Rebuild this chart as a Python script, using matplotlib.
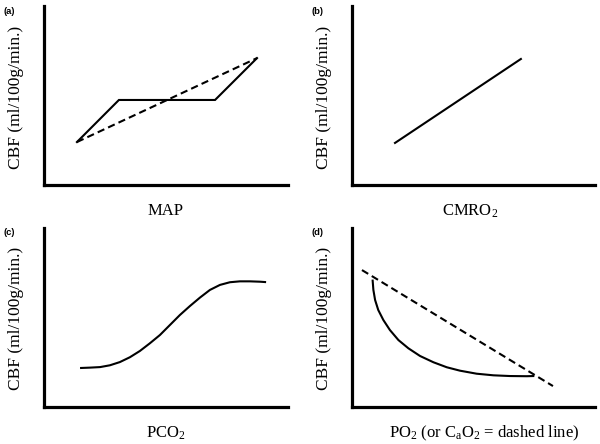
import matplotlib
matplotlib.use("Agg")
import matplotlib.pyplot as plt

plt.rcParams['mathtext.fontset'] = 'custom'
plt.rcParams['mathtext.rm'] = 'Liberation Serif'
plt.rcParams['mathtext.it'] = 'Liberation Serif:italic'

# Panel (a): MAP
map_solid_x = [1.35, 3.07, 7.01, 8.73]
map_solid_y = [2.40, 4.75, 4.75, 7.09]
map_dash_x = [1.35, 8.73]
map_dash_y = [2.40, 7.09]

# Panel (b): CMRO2
cmro_x = [1.77, 6.95]
cmro_y = [2.35, 7.04]

# Panel (c): PCO2
pco_x = [1.52, 1.89, 2.30, 2.70, 3.11, 3.52, 3.93, 4.34, 4.75, 5.16,
         5.57, 5.98, 6.39, 6.80, 7.21, 7.62, 8.03, 8.44, 8.85, 9.06]
pco_y = [2.18, 2.20, 2.23, 2.33, 2.51, 2.78, 3.13, 3.56, 4.02, 4.58,
         5.14, 5.64, 6.11, 6.54, 6.82, 6.97, 7.02, 7.02, 7.00, 6.98]

# Panel (d): PO2 (solid) and CaO2 (dashed)
po_x = [0.85, 0.88, 0.95, 1.08, 1.29, 1.56, 1.91, 2.32, 2.80, 3.35,
        3.90, 4.44, 5.13, 5.82, 6.50, 7.19, 7.46]
po_y = [7.06, 6.54, 5.98, 5.42, 4.86, 4.30, 3.74, 3.28, 2.85, 2.50,
        2.22, 2.03, 1.86, 1.77, 1.73, 1.72, 1.73]
cao_x = [0.41, 8.27]
cao_y = [7.65, 1.17]

panel_labels = ['(a)', '(b)', '(c)', '(d)']
x_labels = ['MAP', r'CMRO$_{\mathrm{2}}$', r'PCO$_{\mathrm{2}}$',
            r'PO$_{\mathrm{2}}$ (or C$_{\mathrm{a}}$O$_{\mathrm{2}}$ = dashed line)']
y_label = 'CBF (ml/100g/min.)'

W, H = 600, 444
fig = plt.figure(figsize=(6, 4.44), dpi=100)

# axes boxes in pixels: left, right, top, bottom
boxes = [(44, 288, 6, 185), (352, 595, 6, 185), (44, 288, 228, 407), (352, 595, 228, 407)]
axes = []
for (l, r, t, b) in boxes:
    ax = fig.add_axes([l / W, (H - b) / H, (r - l) / W, (b - t) / H])
    ax.set_xlim(0, 10)
    ax.set_ylim(0, 10)
    ax.set_xticks([])
    ax.set_yticks([])
    for s in ['top', 'right']:
        ax.spines[s].set_visible(False)
    for s in ['left', 'bottom']:
        ax.spines[s].set_linewidth(2.3)
        ax.spines[s].set_color('black')
    axes.append(ax)

lw = 1.5
dash = (0, (3.5, 2.0))
axes[0].plot(map_solid_x, map_solid_y, color='black', lw=lw, solid_joinstyle='miter')
axes[0].plot(map_dash_x, map_dash_y, color='black', lw=lw, linestyle=dash)
axes[1].plot(cmro_x, cmro_y, color='black', lw=lw)
axes[2].plot(pco_x, pco_y, color='black', lw=lw, solid_joinstyle='round')
axes[3].plot(po_x, po_y, color='black', lw=lw, solid_joinstyle='round')
axes[3].plot(cao_x, cao_y, color='black', lw=lw, linestyle=dash)

# panel labels (pixel positions)
lab_pos = [(4, 12), (312, 12), (4, 232), (312, 232)]
for (px, py), t in zip(lab_pos, panel_labels):
    fig.text(px / W, 1 - py / H, t, fontsize=6.8, fontweight='bold',
             family='Liberation Sans', ha='left', va='center')

# x labels
xl_pos = [(166, 211), (470, 211), (166, 433), (484, 433)]
for (px, py), t in zip(xl_pos, x_labels):
    fig.text(px / W, 1 - py / H, t, fontsize=12, family='Liberation Serif',
             ha='center', va='center')

# y labels
yl_pos = [(16, 97), (324, 97), (16, 318), (324, 318)]
for (px, py) in yl_pos:
    fig.text(px / W, 1 - py / H, y_label, fontsize=12.5, family='Liberation Serif',
             ha='center', va='center', rotation=90)

fig.savefig('out.png', dpi=100)
